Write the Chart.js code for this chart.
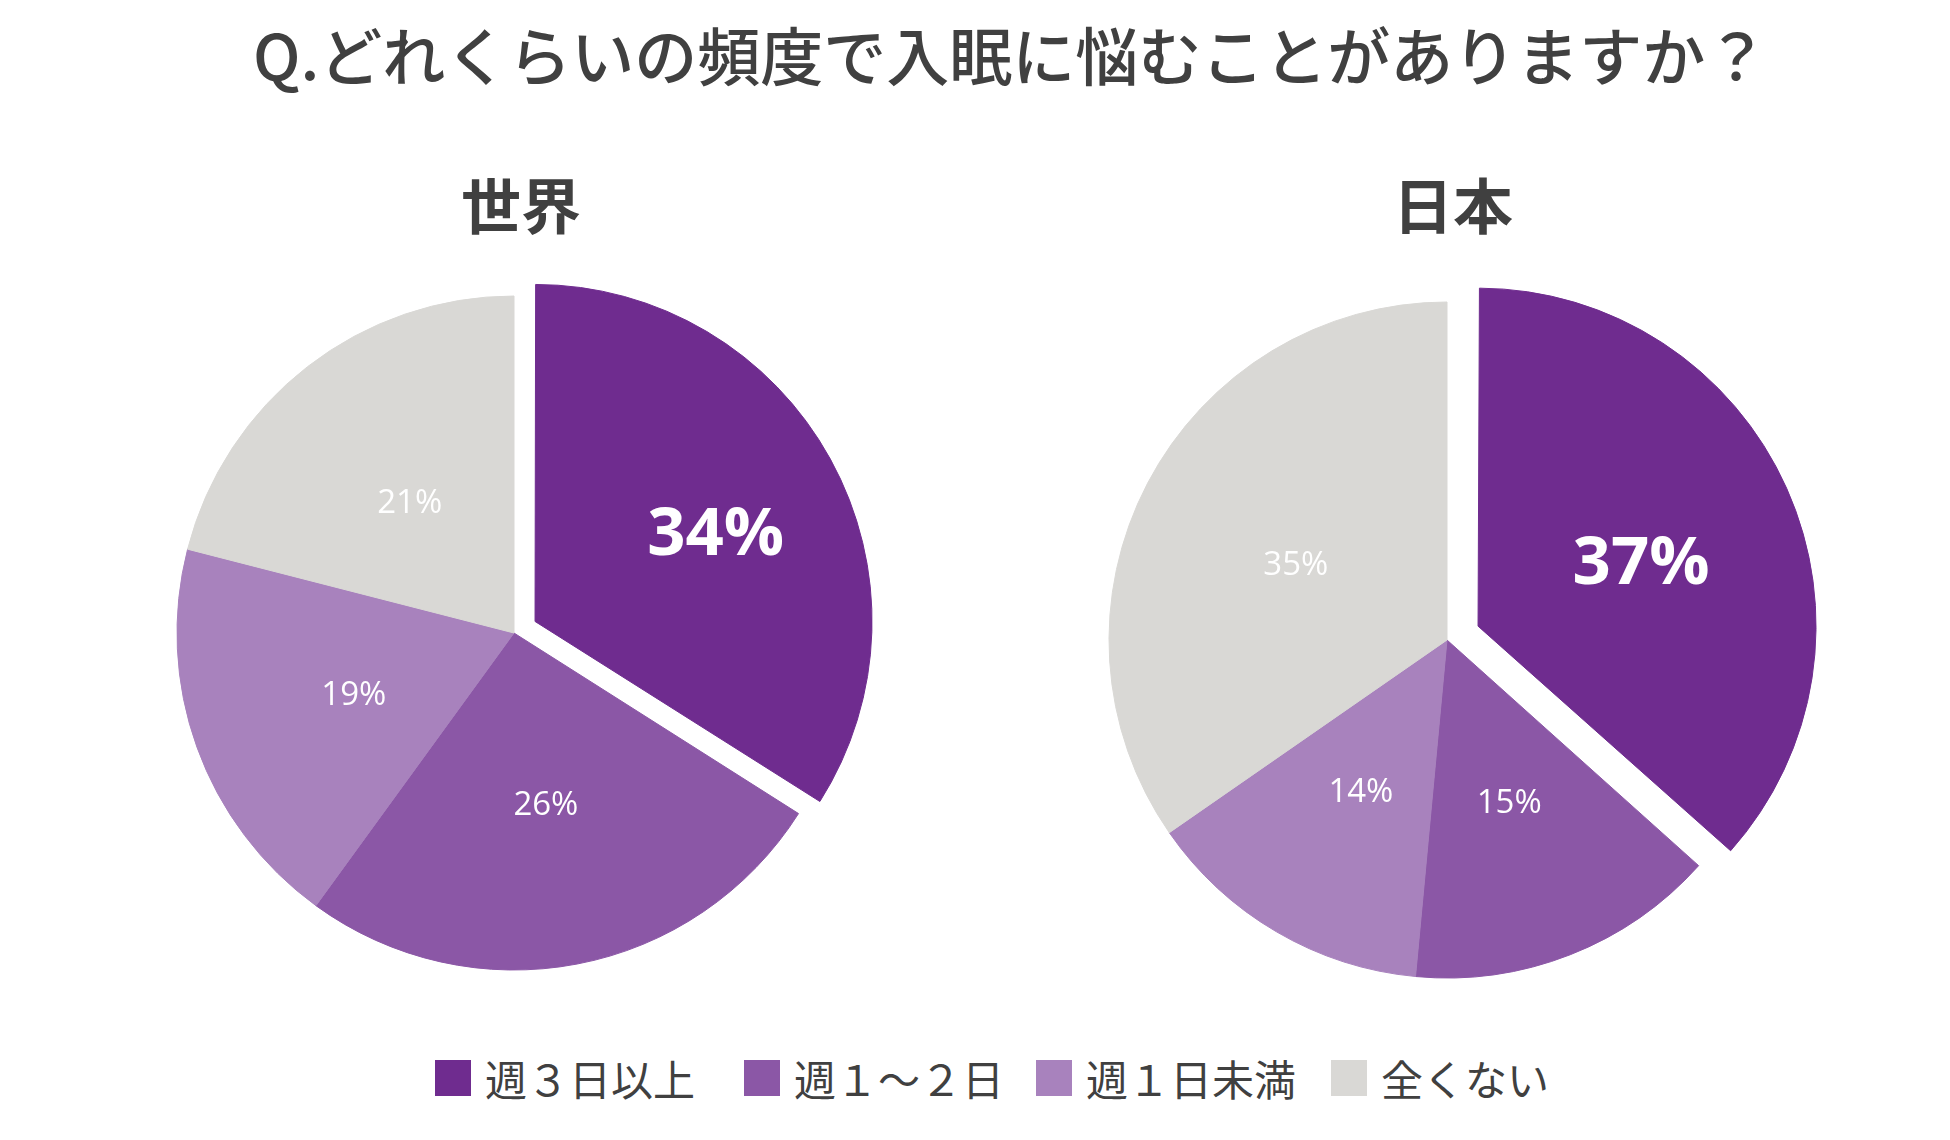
<!DOCTYPE html>
<html lang="ja">
<head>
<meta charset="utf-8">
<script src="https://cdn.jsdelivr.net/npm/chart.js@4/dist/chart.umd.min.js"></script>
<style>
  html, body { margin: 0; padding: 0; background: #ffffff; }
  body { width: 1950px; height: 1140px; position: relative; overflow: hidden;
         font-family: "Noto Sans CJK JP", "Noto Sans", sans-serif; color: #404040; }
  #title { position: absolute; left: 253px; top: 11px; font-size: 63px; font-weight: 500;
           white-space: nowrap; line-height: 84px; }
  .sub { position: absolute; top: 165px; width: 300px; text-align: center; font-size: 60px;
         font-weight: 700; line-height: 76px; }
  .pie { position: absolute; width: 800px; height: 800px; }
  .li { position: absolute; top: 1056px; display: flex; align-items: center; white-space: nowrap; }
  .sw { width: 36px; height: 36px; margin-right: 14px; }
  .lt { font-size: 42px; font-weight: 400; line-height: 44px; }
</style>
</head>
<body>
<div id="title"></div>
<div class="sub" id="sub0"></div>
<div class="sub" id="sub1"></div>
<div class="pie" id="wrap0"><canvas id="c0" width="800" height="800"></canvas></div>
<div class="pie" id="wrap1"><canvas id="c1" width="800" height="800"></canvas></div>
<div id="legend"></div>
<script>
// ---- data ----
const chartTitle = 'Q.どれくらいの頻度で入眠に悩むことがありますか？';
const categories = ['週３日以上', '週１～２日', '週１日未満', '全くない'];
const panelTitles = ['世界', '日本'];
const worldValues = [34, 26, 19, 21];
const japanValues = [37, 15, 14, 35];

// ---- styles / layout ----
const colors = ['#6F2C8F', '#8B57A6', '#A882BD', '#D9D8D5'];
const legendLefts = [435, 744, 1036, 1331];
const panels = [
  { values: worldValues, cx: 514, cy: 633, r: 337, offset: 96, bigDist: 224, subX: 521 },
  { values: japanValues, cx: 1447, cy: 640, r: 338, offset: 136, bigDist: 208, subX: 1453 }
];

document.getElementById('title').textContent = chartTitle;

const legend = document.getElementById('legend');
categories.forEach((c, i) => {
  const li = document.createElement('div'); li.className = 'li';
  li.style.left = legendLefts[i] + 'px';
  const sw = document.createElement('div'); sw.className = 'sw'; sw.style.background = colors[i];
  const lt = document.createElement('div'); lt.className = 'lt'; lt.textContent = c;
  li.appendChild(sw); li.appendChild(lt); legend.appendChild(li);
});

// keep the exploded slice at the same radius as the others
const keepRadius = {
  id: 'keepRadius',
  afterDatasetsUpdate(chart) {
    const R = chart.options.radius;
    chart.getDatasetMeta(0).data.forEach(arc => {
      const off = (arc.options && arc.options.offset || 0) / 4;
      if (off) {
        const fix = 1 - Math.sin(Math.min(Math.PI, arc.circumference || 0));
        arc.outerRadius = R - off * fix;
      }
    });
  }
};

const pctLabels = {
  id: 'pctLabels',
  afterDatasetsDraw(chart, args, opts) {
    const ctx = chart.ctx;
    const meta = chart.getDatasetMeta(0);
    const data = chart.data.datasets[0].data;
    const R = chart.options.radius;
    ctx.save();
    ctx.fillStyle = '#ffffff';
    ctx.textAlign = 'center';
    ctx.textBaseline = 'middle';
    meta.data.forEach((arc, i) => {
      const p = arc.getProps(['x', 'y', 'startAngle', 'endAngle'], true);
      let mid = (p.startAngle + p.endAngle) / 2;
      const big = i === 0;
      let d, dy = 0;
      if (big) {
        mid += 3 * Math.PI / 180;
        d = opts.bigDist;
        ctx.font = '700 67px "Open Sans", "Noto Sans", sans-serif';
      } else {
        d = R * 0.505;
        dy = 5;
        ctx.font = '500 33px "Open Sans", "Noto Sans", sans-serif';
      }
      ctx.fillText(data[i] + '%', p.x + Math.cos(mid) * d, p.y + Math.sin(mid) * d + dy);
    });
    ctx.restore();
  }
};

panels.forEach((pn, k) => {
  const wrap = document.getElementById('wrap' + k);
  wrap.style.left = (pn.cx - 400) + 'px';
  wrap.style.top = (pn.cy - 400) + 'px';
  const sub = document.getElementById('sub' + k);
  sub.textContent = panelTitles[k];
  sub.style.left = (pn.subX - 150) + 'px';

  new Chart(document.getElementById('c' + k), {
    type: 'pie',
    data: {
      labels: categories,
      datasets: [{
        data: pn.values,
        backgroundColor: colors,
        borderColor: colors,
        borderWidth: 1,
        offset: pn.values.map((v, i) => i === 0 ? pn.offset : 0)
      }]
    },
    options: {
      responsive: false,
      animation: false,
      devicePixelRatio: 1,
      radius: pn.r,
      layout: { padding: 0 },
      plugins: {
        legend: { display: false },
        title: { display: false },
        tooltip: { enabled: false },
        pctLabels: { bigDist: pn.bigDist }
      }
    },
    plugins: [keepRadius, pctLabels]
  });
});
</script>
</body>
</html>
